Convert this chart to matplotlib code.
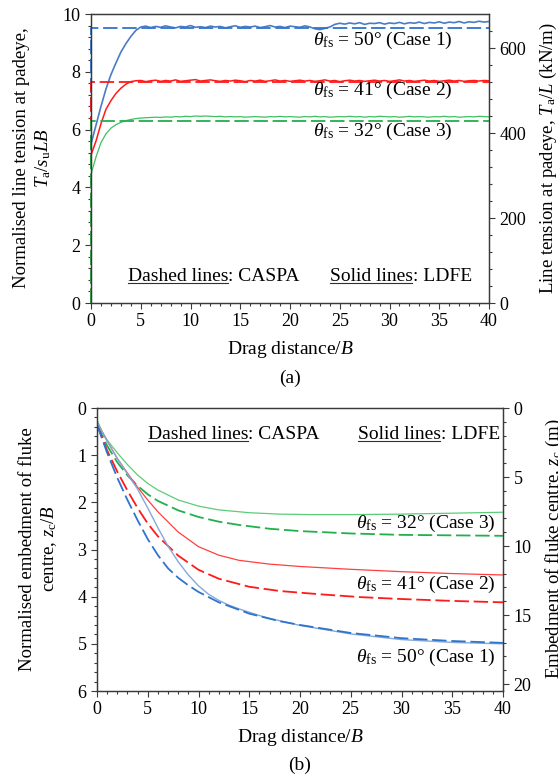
import numpy as np
import matplotlib
matplotlib.use("Agg")
import matplotlib.pyplot as plt
from matplotlib.lines import Line2D

plt.rcParams['font.family'] = ['Liberation Serif', 'DejaVu Serif']
plt.rcParams['mathtext.fontset'] = 'custom'
plt.rcParams['mathtext.rm'] = 'Liberation Serif'
plt.rcParams['mathtext.it'] = 'Liberation Serif:italic'
plt.rcParams['mathtext.bf'] = 'Liberation Serif:bold'

# ---------------- data: panel (a) ----------------
grid_a = np.arange(0, 40.5, 0.5)  # drag distance / B sample positions (LDFE output)

ldfe_case1 = [5.50, 6.15, 6.80, 7.40, 7.90, 8.30, 8.68, 8.97, 9.22, 9.43, 9.55,
              9.58, 9.53, 9.57, 9.54, 9.59, 9.55, 9.52, 9.57, 9.55, 9.60,
              9.54, 9.56, 9.53, 9.58, 9.55, 9.57, 9.52, 9.56, 9.59, 9.54,
              9.57, 9.55, 9.58, 9.53, 9.56, 9.60, 9.55, 9.57, 9.53, 9.58,
              9.56, 9.54, 9.59, 9.55,
              9.49, 9.46, 9.50, 9.55,
              9.64, 9.68, 9.65, 9.69, 9.66, 9.70, 9.64, 9.68, 9.67, 9.70,
              9.65, 9.69, 9.67, 9.71, 9.66, 9.70, 9.68, 9.72, 9.67, 9.71,
              9.69, 9.73, 9.68, 9.72, 9.70, 9.74, 9.69, 9.73, 9.71, 9.75,
              9.72, 9.74]
ldfe_case2 = [5.12, 5.60, 6.20, 6.70, 7.00, 7.25, 7.43, 7.57, 7.66, 7.69,
              7.70, 7.66, 7.69, 7.71, 7.67, 7.70, 7.68, 7.72, 7.67, 7.69,
              7.71, 7.73, 7.68, 7.70, 7.72, 7.69, 7.67, 7.70, 7.68, 7.71,
              7.69, 7.66, 7.70, 7.68, 7.71, 7.67, 7.69, 7.72, 7.68, 7.70,
              7.67, 7.69, 7.71, 7.68, 7.70, 7.67, 7.69, 7.72, 7.68, 7.70,
              7.66, 7.69, 7.71, 7.68, 7.70, 7.67, 7.69, 7.71, 7.68, 7.70,
              7.67, 7.69, 7.72, 7.68, 7.70, 7.67, 7.69, 7.71, 7.68, 7.70,
              7.67, 7.69, 7.71, 7.68, 7.70, 7.67, 7.69, 7.70, 7.68, 7.70,
              7.69]
ldfe_case3 = [4.45, 5.05, 5.55, 5.85, 6.05, 6.17, 6.25, 6.31, 6.35, 6.38, 6.40,
              6.41, 6.42, 6.43, 6.42, 6.44, 6.43, 6.45, 6.44, 6.46, 6.45,
              6.47, 6.46, 6.47, 6.46, 6.45, 6.46, 6.44, 6.45, 6.44, 6.45,
              6.43, 6.44, 6.45, 6.44, 6.43, 6.45, 6.44, 6.46, 6.44, 6.45,
              6.44, 6.43, 6.45, 6.44, 6.46, 6.44, 6.45, 6.43, 6.44, 6.45,
              6.44, 6.46, 6.44, 6.45, 6.43, 6.45, 6.44, 6.46, 6.45, 6.44,
              6.45, 6.43, 6.44, 6.46, 6.44, 6.45, 6.44, 6.43, 6.45, 6.44,
              6.46, 6.44, 6.45, 6.43, 6.44, 6.45, 6.44, 6.46, 6.45, 6.44]

caspa_x_a = [0, 0, 40]
caspa_case1 = [0, 9.52, 9.52]
caspa_case2 = [0, 7.65, 7.65]
caspa_case3 = [0, 6.30, 6.30]

# ---------------- data: panel (b) ----------------
ldfe3_x = [0, 0.5, 1, 2, 3, 4, 5, 6, 8, 10, 12, 15, 18, 21, 25, 30, 35, 40]
ldfe3_z = [0.25, 0.5, 0.68, 0.95, 1.2, 1.42, 1.6, 1.74, 1.95, 2.08, 2.16, 2.22,
           2.25, 2.26, 2.26, 2.25, 2.23, 2.21]
caspa3_x = [0, 1, 2, 3, 4, 5, 6, 8, 10, 12, 14, 17, 20, 25, 30, 35, 40]
caspa3_z = [0.35, 0.80, 1.15, 1.43, 1.65, 1.83, 1.97, 2.17, 2.31, 2.41, 2.48, 2.56,
            2.61, 2.66, 2.69, 2.70, 2.71]

ldfe2_x = [0, 0.5, 1, 2, 3, 4, 5, 6, 8, 10, 12, 14, 17, 20, 25, 30, 35, 40]
ldfe2_z = [0.3, 0.5, 0.7, 1.07, 1.38, 1.68, 1.95, 2.2, 2.63, 2.94, 3.12, 3.23,
           3.31, 3.36, 3.42, 3.47, 3.51, 3.54]
caspa2_x = [0, 1, 2, 3, 4, 5, 6, 8, 10, 12, 15, 18, 22, 26, 30, 35, 40]
caspa2_z = [0.35, 0.9, 1.35, 1.75, 2.12, 2.45, 2.72, 3.13, 3.43, 3.62, 3.79, 3.88,
            3.95, 4.01, 4.05, 4.09, 4.12]

ldfe1_x = [0, 0.5, 1, 2, 3, 4, 5, 6, 7, 8, 9, 10, 11, 12, 13, 14, 15, 16, 17,
           18, 20, 25, 30, 35, 40]
ldfe1_z = [0.3, 0.5, 0.7, 1.07, 1.4, 1.72, 2.12, 2.54, 2.93, 3.26, 3.54, 3.77,
           3.95, 4.08, 4.18, 4.26, 4.33, 4.4, 4.46, 4.51, 4.61, 4.79, 4.91, 4.97, 5.0]
caspa1_x = [0, 1, 2, 3, 4, 5, 6, 7, 8, 9, 10, 12, 15, 18, 20, 25, 30, 35, 40]
caspa1_z = [0.35, 0.95, 1.48, 1.95, 2.38, 2.78, 3.12, 3.4, 3.6, 3.76, 3.9, 4.12,
            4.36, 4.52, 4.6, 4.77, 4.88, 4.94, 4.98]

case_labels = [r'$\theta_{\rm fs}$ = 50° (Case 1)',
               r'$\theta_{\rm fs}$ = 41° (Case 2)',
               r'$\theta_{\rm fs}$ = 32° (Case 3)']

xticks = [0, 5, 10, 15, 20, 25, 30, 35, 40]
yticks_a = [0, 2, 4, 6, 8, 10]
yticks_a_right = [0, 200, 400, 600]
yticks_b = [0, 1, 2, 3, 4, 5, 6]
yticks_b_right = [0, 5, 10, 15, 20]

kn_per_unit = 68.0      # T_a/L per unit of T_a/(s_u L B)
m_per_unit = 20.5 / 6   # z_c (m) per unit of z_c/B

# ---------------- styling ----------------
C_BLUE_D = '#2f74cc'
C_BLUE_S = '#4a7cc6'
C_BLUE_S2 = '#86a8da'
C_RED = '#ff1a1a'
C_RED_S2 = '#ff4040'
C_GREEN_D = '#22b04c'
C_GREEN_S = '#40bf60'
C_GREEN_S2 = '#5ccc78'
SPINE = '#3a3a3a'
FS_TICK = 13
FS = 14
FS_YL = 13.5
DASH = (8, 2.6)

W, H = 558, 782
fig = plt.figure(figsize=(W / 100, H / 100), dpi=100)


def px_axes(l, r, t, b):
    return fig.add_axes([l / W, 1 - b / H, (r - l) / W, (b - t) / H])


def style_axes(ax):
    for s in ax.spines.values():
        s.set_color(SPINE)
        s.set_linewidth(0.9)
    ax.tick_params(which='both', direction='out', color=SPINE, width=0.8,
                   labelsize=FS_TICK, pad=3)
    ax.tick_params(which='major', length=4.5)
    ax.tick_params(which='minor', length=2.5)


# ======== panel (a) ========
axa = px_axes(91, 489, 14, 303)
axa.plot(grid_a, ldfe_case1, color=C_BLUE_S, lw=1.2, zorder=3)
axa.plot(grid_a, ldfe_case2, color=C_RED, lw=1.1, zorder=3)
axa.plot(grid_a, ldfe_case3, color=C_GREEN_S, lw=0.9, zorder=3)
axa.plot(caspa_x_a, caspa_case1, color=C_BLUE_D, lw=1.3, dashes=DASH, zorder=4, clip_on=False)
axa.plot(caspa_x_a, caspa_case2, color=C_RED, lw=1.3, dashes=DASH, zorder=4, clip_on=False)
axa.plot(caspa_x_a, caspa_case3, color=C_GREEN_D, lw=1.3, dashes=DASH, zorder=4, clip_on=False)
axa.set_xlim(0, 40)
axa.set_ylim(0, 10)
axa.set_xticks(xticks)
axa.set_xticks(np.arange(0, 41, 1), minor=True)
axa.set_yticks(yticks_a)
axa.set_yticks(np.arange(0, 10.01, 0.4), minor=True)
style_axes(axa)
axa.tick_params(top=False, right=False, which='both')
axa.set_xlabel(r'Drag distance/$B$', fontsize=FS, labelpad=6)

for lbl, y in zip(case_labels, [9.1, 7.37, 5.92]):
    axa.text(29.3, y, lbl, fontsize=FS, ha='center', va='center', zorder=5)

axa_r = axa.twinx()
axa_r.set_ylim(0, 10 * kn_per_unit)
axa_r.set_yticks(yticks_a_right)
axa_r.set_yticks(np.arange(0, 10 * kn_per_unit, 40), minor=True)
style_axes(axa_r)
axa_r.tick_params(left=False, which='both')

# ======== panel (b) ========
axb = px_axes(97, 503, 408, 691)
axb.plot(ldfe3_x, ldfe3_z, color=C_GREEN_S2, lw=0.9, zorder=3)
axb.plot(caspa3_x, caspa3_z, color=C_GREEN_D, lw=1.3, dashes=DASH, zorder=3)
axb.plot(ldfe2_x, ldfe2_z, color=C_RED_S2, lw=0.9, zorder=3)
axb.plot(caspa2_x, caspa2_z, color=C_RED, lw=1.3, dashes=DASH, zorder=3)
axb.plot(ldfe1_x, ldfe1_z, color=C_BLUE_S2, lw=1.0, zorder=3)
axb.plot(caspa1_x, caspa1_z, color=C_BLUE_D, lw=1.3, dashes=DASH, zorder=3)
axb.set_xlim(0, 40)
axb.set_ylim(6, 0)
axb.set_xticks(xticks)
axb.set_xticks(np.arange(0, 41, 1), minor=True)
axb.set_yticks(yticks_b)
axb.set_yticks(np.arange(0, 6.01, 0.2), minor=True)
style_axes(axb)
axb.tick_params(top=False, right=False, which='both')
axb.set_xlabel(r'Drag distance/$B$', fontsize=FS, labelpad=6)

for lbl, y in zip(case_labels, [5.28, 3.75, 2.44]):
    axb.text(39.3, y, lbl, fontsize=FS, ha='right', va='center', zorder=5)

axb_r = axb.twinx()
axb_r.set_ylim(6 * m_per_unit, 0)
axb_r.set_yticks(yticks_b_right)
axb_r.set_yticks(np.arange(0, 20.01, 1), minor=True)
style_axes(axb_r)
axb_r.tick_params(left=False, which='both')

# ======== axis titles (figure text) ========
fig.text(33 / W, 1 - 158 / H, 'Normalised line tension at padeye,\n$T_{\\rm a}/s_{\\rm u}LB$',
         rotation=90, ha='center', va='center', fontsize=FS_YL, linespacing=1.2,
         multialignment='center')
fig.text(548 / W, 1 - 158 / H, r'Line tension at padeye, $T_{\rm a}/L$ (kN/m)',
         rotation=90, ha='center', va='center', fontsize=FS_YL)
fig.text(39 / W, 1 - 549 / H, 'Normalised embedment of fluke\ncentre, $z_{\\rm c}/B$',
         rotation=90, ha='center', va='center', fontsize=FS_YL, linespacing=1.2,
         multialignment='center')
fig.text(554 / W, 1 - 549 / H, r'Embedment of fluke centre, $z_{\rm c}$ (m)',
         rotation=90, ha='center', va='center', fontsize=FS_YL)
fig.text(290 / W, 1 - 378 / H, '(a)', ha='center', va='center', fontsize=FS)
fig.text(300 / W, 1 - 765 / H, '(b)', ha='center', va='center', fontsize=FS)


# ======== "Dashed lines: CASPA" / "Solid lines: LDFE" with underline ========
def legend_note(ax, x, y, head, tail):
    t1 = ax.text(x, y, head, fontsize=FS, ha='left', va='center', zorder=5)
    ax.annotate(tail, xy=(1, 0), xycoords=t1, ha='left', va='bottom',
                fontsize=FS, zorder=5)
    return t1


notes = [
    legend_note(axa, 3.7, 0.92, 'Dashed lines', ': CASPA'),
    legend_note(axa, 24.0, 0.92, 'Solid lines', ': LDFE'),
    legend_note(axb, 5.0, 0.57, 'Dashed lines', ': CASPA'),
    legend_note(axb, 25.7, 0.57, 'Solid lines', ': LDFE'),
]
fig.canvas.draw()
renderer = fig.canvas.get_renderer()
for t in notes:
    bb = t.get_window_extent(renderer)
    y = bb.y0 + 2.4
    (x0, y0) = fig.transFigure.inverted().transform((bb.x0 + 0.5, y))
    (x1, _) = fig.transFigure.inverted().transform((bb.x1 - 0.5, y))
    fig.add_artist(Line2D([x0, x1], [y0, y0], color='#303030', lw=0.8,
                          transform=fig.transFigure))

fig.savefig('out.png', dpi=100)
